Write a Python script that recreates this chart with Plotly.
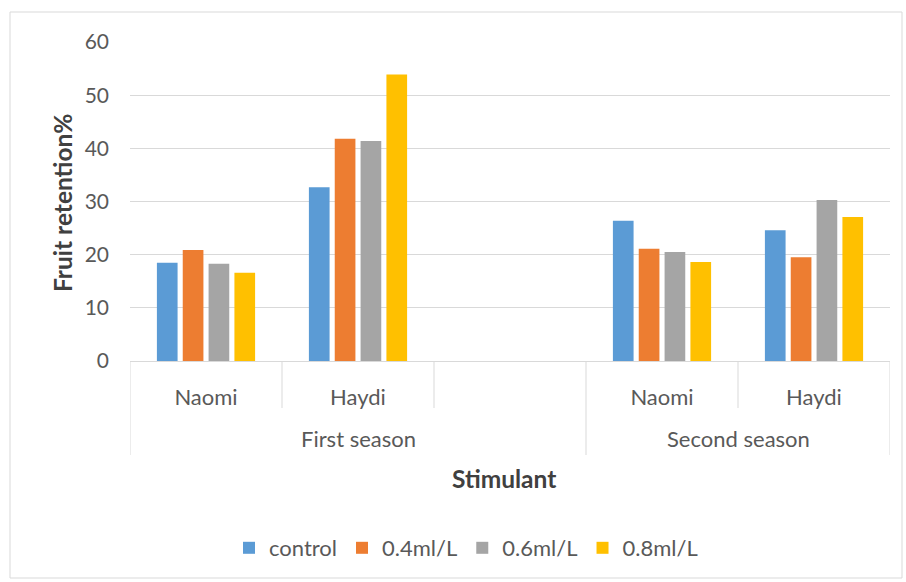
import plotly.graph_objects as go

# Category slots along the x axis (the third First-season slot is left empty)
slot_season = ["First season", "First season", "First season", "Second season", "Second season"]
slot_cultivar = ["Naomi", "Haydi", "", "Naomi", "Haydi"]

control = [18.5, 32.7, None, 26.4, 24.6]
ml04 = [20.9, 41.8, None, 21.1, 19.5]
ml06 = [18.3, 41.4, None, 20.5, 30.3]
ml08 = [16.6, 53.9, None, 18.6, 27.1]

series_names = ["control", "0.4ml/L", "0.6ml/L", "0.8ml/L"]
series_colors = ["#5B9BD5", "#ED7D31", "#A5A5A5", "#FFC000"]

FONT = "Lato"
GREY = "#595959"
DARK = "#404040"
LINE = "#d9d9d9"

# plot-area geometry in pixels
W, H = 906, 582
L, R, T, B = 130, 890, 42, 361
PW, PH = R - L, B - T


def py(pix):
    """pixel row -> paper y"""
    return (B - pix) / PH


def px(pix):
    """pixel column -> paper x"""
    return (pix - L) / PW


slot_keys = [f"{s}|{c}|{i}" for i, (s, c) in enumerate(zip(slot_season, slot_cultivar))]

fig = go.Figure()
for name, vals, col in zip(series_names, [control, ml04, ml06, ml08], series_colors):
    fig.add_trace(go.Bar(x=slot_keys, y=vals, name=name,
                         marker=dict(color=col, line=dict(width=0))))

fig.update_layout(
    width=W, height=H,
    margin=dict(l=L, r=W - R, t=T, b=H - B),
    paper_bgcolor="white", plot_bgcolor="white",
    barmode="group", bargap=0.32, bargroupgap=0.2,
    font=dict(family=FONT, size=21, color=GREY),
    showlegend=True,
    legend=dict(orientation="h", x=px(466), xanchor="center", y=py(548), yanchor="middle",
                font=dict(size=22, color=GREY), itemwidth=30, traceorder="normal"),
)

fig.update_xaxes(
    type="category", categoryorder="array", categoryarray=slot_keys,
    range=[-0.5, len(slot_keys) - 0.5],
    tickvals=slot_keys, ticktext=slot_cultivar,
    showline=True, linecolor=LINE, linewidth=1,
    ticks="", ticklabelstandoff=17,
    tickfont=dict(size=22, color=GREY, family=FONT),
    showgrid=False,
)
fig.update_yaxes(
    range=[0, 60], dtick=10, showgrid=True, gridcolor=LINE, gridwidth=1,
    zeroline=False, showline=False, ticks="",
    tickfont=dict(size=21, color=GREY, family=FONT), ticklabelstandoff=20,
)

# vertical dividers between slots; season boundaries run down past the season labels
n = len(slot_keys)
for i in range(n + 1):
    edge = i == 0 or i == n or slot_season[i - 1] != slot_season[i]
    fig.add_shape(type="line", xref="x", yref="paper",
                  x0=i - 0.5, x1=i - 0.5, y0=0, y1=py(455) if edge else py(408),
                  line=dict(color=LINE, width=1))

# season labels centred under their slots
for season in dict.fromkeys(slot_season):
    idx = [i for i, s in enumerate(slot_season) if s == season]
    fig.add_annotation(text=season, xref="x", yref="paper",
                       x=(idx[0] + idx[-1]) / 2, y=py(438), yanchor="middle",
                       showarrow=False, font=dict(size=22, color=GREY, family=FONT))

fig.add_annotation(text="<b>Fruit retention%</b>", xref="paper", yref="paper",
                   x=px(62), y=py(203), textangle=-90, showarrow=False,
                   xanchor="center", yanchor="middle",
                   font=dict(size=24.5, color=DARK, family=FONT))
fig.add_annotation(text="<b>Stimulant</b>", xref="paper", yref="paper",
                   x=px(504), y=py(478), showarrow=False, yanchor="middle",
                   font=dict(size=24.5, color=DARK, family=FONT))

fig.add_shape(type="rect", xref="paper", yref="paper",
              x0=px(10), x1=px(902), y0=py(578), y1=py(12),
              line=dict(color=LINE, width=1), layer="below")

fig.write_html("out.html")
